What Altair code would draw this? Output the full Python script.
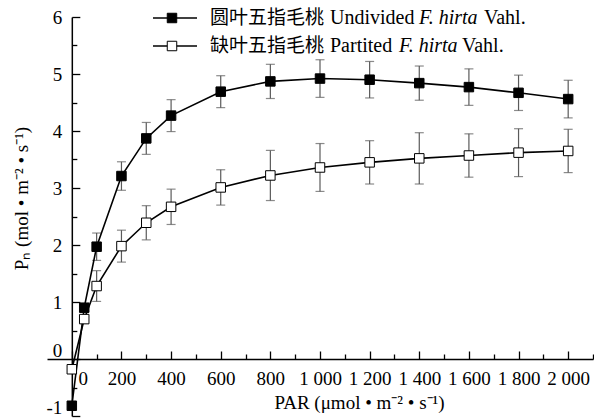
import altair as alt
import pandas as pd

# ---------------- data ----------------
par = [0, 50, 100, 200, 300, 400, 600, 800, 1000, 1200, 1400, 1600, 1800, 2000]
undivided = [-0.82, 0.90, 1.97, 3.21, 3.87, 4.27, 4.69, 4.87, 4.92, 4.90, 4.84, 4.77, 4.67, 4.56]
undivided_err = [0.04, 0.05, 0.24, 0.25, 0.28, 0.28, 0.28, 0.30, 0.33, 0.32, 0.30, 0.32, 0.31, 0.33]
partited = [-0.18, 0.70, 1.28, 1.98, 2.39, 2.67, 3.01, 3.22, 3.36, 3.45, 3.52, 3.57, 3.62, 3.65]
partited_err = [0.05, 0.05, 0.27, 0.28, 0.30, 0.31, 0.31, 0.44, 0.42, 0.38, 0.45, 0.38, 0.42, 0.38]

series_names = ["Undivided", "Partited"]
x_major = [0, 200, 400, 600, 800, 1000, 1200, 1400, 1600, 1800, 2000]
x_minor = [100, 300, 500, 700, 900, 1100, 1300, 1500, 1700, 1900, 2100]
y_major = [-1, 0, 1, 2, 3, 4, 5, 6]
y_minor = [-0.5, 0.5, 1.5, 2.5, 3.5, 4.5, 5.5]

legend_cn = ["圆叶五指毛桃", "缺叶五指毛桃"]
legend_en = ["Undivided", "Partited"]
legend_sp = "F. hirta"
legend_auth = "Vahl."

x_title = "PAR (μmol • m⁻² • s⁻¹)"
y_title = "Pₙ (mol • m⁻² • s⁻¹)"

# ---------------- table ----------------
rows = []
for name, vals, errs in [(series_names[0], undivided, undivided_err),
                         (series_names[1], partited, partited_err)]:
    for p, v, e in zip(par, vals, errs):
        rows.append({"par": p, "pn": v, "lo": v - e, "hi": v + e, "series": name})
df = pd.DataFrame(rows)

# ---------------- geometry ----------------
W, H = 546, 399
X_DOM = [-100, 2100]
Y_DOM = [-1, 6]
x0 = W * (0 - X_DOM[0]) / (X_DOM[1] - X_DOM[0])   # pixel of PAR = 0
y0 = H * (Y_DOM[1] - 0) / (Y_DOM[1] - Y_DOM[0])   # pixel of Pn = 0

SERIF = "Liberation Serif"
CJK = "Noto Sans CJK SC"
FS = 19
LFS = 20

xs = alt.Scale(domain=X_DOM, nice=False, zero=False)
ys = alt.Scale(domain=Y_DOM, nice=False, zero=False)


def X(field, axis):
    return alt.X(f"{field}:Q", scale=xs, axis=axis)


def Y(field, axis):
    return alt.Y(f"{field}:Q", scale=ys, axis=axis)


common_ax = dict(grid=False, title=None, labels=False)
ax_x_major = alt.Axis(orient="top", offset=-y0, values=x_major, tickSize=8, tickWidth=1.3,
                      tickColor="black", domain=True, domainColor="black", domainWidth=1.5,
                      **common_ax)
ax_y_major = alt.Axis(orient="right", offset=-(W - x0), values=y_major, tickSize=8, tickWidth=1.3,
                      tickColor="black", domain=True, domainColor="black", domainWidth=1.5,
                      **common_ax)
ax_x_minor = alt.Axis(orient="top", offset=-y0, values=x_minor, tickSize=5, tickWidth=1.3,
                      tickColor="black", domain=False, **common_ax)
ax_y_minor = alt.Axis(orient="right", offset=-(W - x0), values=y_minor, tickSize=5, tickWidth=1.3,
                      tickColor="black", domain=False, **common_ax)

ax_x_lab = alt.Axis(orient="bottom", offset=-(H - y0), values=x_major, ticks=False, domain=False,
                    grid=False, labelPadding=19, labelBaseline="middle", labelFont=SERIF,
                    labelFontSize=FS, labelColor="black", labelOverlap=False, labelFlush=False,
                    labelExpr="replace(format(datum.value, ','), ',', ' ')",
                    labelOffset={"condition": {"test": "datum.value === 0", "value": 11}, "value": 0},
                    title=x_title, titleFont=SERIF, titleFontSize=FS, titleFontWeight="normal",
                    titleColor="black", titleX=312, titleY=43, titleAlign="center",
                    titleBaseline="middle", titleAngle=0)
ax_y_lab = alt.Axis(orient="left", offset=-x0, values=y_major, ticks=False, domain=False,
                    grid=False, labelPadding=10, labelFont=SERIF, labelFontSize=FS,
                    labelColor="black", labelOverlap=False, labelFlush=False,
                    labelExpr="datum.value < 0 ? '-' + abs(datum.value) : '' + datum.value",
                    labelOffset={"condition": {"test": "datum.value <= 0", "value": -9}, "value": 0},
                    title=y_title, titleFont=SERIF, titleFontSize=FS, titleFontWeight="normal",
                    titleColor="black", titleX=-50, titleY=181, titleAlign="center",
                    titleBaseline="middle", titleAngle=270)

base = alt.Chart(df)
ERR = "#5a5a5a"

err_rules = base.mark_rule(color=ERR, strokeWidth=1.2).encode(
    x=X("par", ax_x_major), y=Y("lo", ax_y_major), y2="hi", detail="series:N")
cap_lo = base.mark_tick(color=ERR, size=9, thickness=1.2, orient="horizontal").encode(
    x=X("par", ax_x_minor), y=Y("lo", ax_y_minor))
cap_hi = base.mark_tick(color=ERR, size=9, thickness=1.2, orient="horizontal").encode(
    x=X("par", ax_x_lab), y=Y("hi", ax_y_lab))
lines = base.mark_line(color="black", strokeWidth=1.6).encode(
    x=X("par", None), y=Y("pn", None), detail="series:N", order="par:Q")
points = base.mark_point(shape="square", filled=True, size=90, stroke="black",
                         strokeWidth=1, opacity=1).encode(
    x=X("par", None), y=Y("pn", None),
    fill=alt.Fill("series:N", scale=alt.Scale(domain=series_names, range=["black", "white"]),
                  legend=None))

# ---------------- hand-made legend ----------------
one = pd.DataFrame({"k": [0]})
leg_layers = []
row_y = [1, 29]
fills = ["black", "white"]
en_x = [283, 283]
sp_x = [372, 352]
au_x = [437, 415]
for i in range(2):
    leg_layers.append(alt.Chart(one).mark_rule(color="black", strokeWidth=1.6).encode(
        x=alt.value(106), x2=alt.value(150), y=alt.value(row_y[i])))
    leg_layers.append(alt.Chart(one).mark_point(shape="square", filled=True, size=90,
                                                fill=fills[i], stroke="black", strokeWidth=1,
                                                opacity=1).encode(
        x=alt.value(125), y=alt.value(row_y[i])))
    leg_layers.append(alt.Chart(one).mark_text(text=legend_cn[i], align="left", baseline="middle",
                                               font=CJK, fontSize=19, color="black").encode(
        x=alt.value(163), y=alt.value(row_y[i])))
    leg_layers.append(alt.Chart(one).mark_text(text=legend_en[i], align="left", baseline="middle",
                                               font=SERIF, fontSize=LFS, color="black").encode(
        x=alt.value(en_x[i]), y=alt.value(row_y[i])))
    leg_layers.append(alt.Chart(one).mark_text(text=legend_sp, align="left", baseline="middle",
                                               font=SERIF, fontSize=LFS, fontStyle="italic",
                                               color="black").encode(
        x=alt.value(sp_x[i]), y=alt.value(row_y[i])))
    leg_layers.append(alt.Chart(one).mark_text(text=legend_auth, align="left", baseline="middle",
                                               font=SERIF, fontSize=LFS, color="black").encode(
        x=alt.value(au_x[i]), y=alt.value(row_y[i])))

chart = alt.layer(err_rules, cap_lo, cap_hi, lines, points, *leg_layers).resolve_axis(
    x="independent", y="independent"
).properties(
    width=W, height=H,
    padding={"left": 47, "top": 17, "right": 1, "bottom": 2},
    autosize=alt.AutoSizeParams(type="none"),
    background="white",
).configure_view(stroke=None)

chart.save("out.html", embed_options={"renderer": "svg", "actions": False})
